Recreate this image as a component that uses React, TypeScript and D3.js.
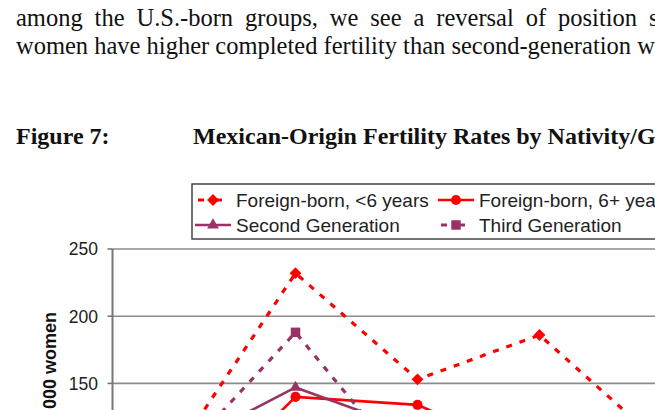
import * as React from 'react';
import { scaleBand, scaleLinear, line, symbol, symbolSquare, symbolTriangle, symbolCircle } from 'd3';

// age groups (x axis falls below the visible crop)
const categories = ['15-19', '20-24', '25-29', '30-34', '35-39', '40-44'];
const foreignRecent = [96, 232, 153, 186, 105, 40];
const foreignLong = [50, 140, 134, 95, 50, 12];
const secondGen = [100, 147, 114, 75, 35, 8];
const thirdGen = [90, 188, 78, 55, 25, 6];
const yTicks = [0, 50, 100, 150, 200, 250];

const RED = '#ff0000';
const PLUM = '#993366';

const series = [
    { name: 'Foreign-born, <6 years', values: foreignRecent, color: RED, dash: '6,8', marker: 'diamond' },
    { name: 'Foreign-born, 6+ years', values: foreignLong, color: RED, dash: null, marker: 'circle' },
    { name: 'Second Generation', values: secondGen, color: PLUM, dash: null, marker: 'triangle' },
    { name: 'Third Generation', values: thirdGen, color: PLUM, dash: '6,8', marker: 'square' },
];

const markerPath = (kind: string) => {
    if (kind === 'diamond') return symbol(symbolSquare, 70)();
    if (kind === 'circle') return symbol(symbolCircle, 80)();
    if (kind === 'triangle') return symbol(symbolTriangle, 60)();
    return symbol(symbolSquare, 90)();
};

const Marker = ({ kind, x, y, color }: { kind: string; x: number; y: number; color: string }) => (
    <path
        d={markerPath(kind) as string}
        fill={color}
        transform={`translate(${x},${y})${kind === 'diamond' ? ' rotate(45)' : ''}`}
    />
);

export default function App() {
    const left = 112.5;
    const top = 249;
    const bottom = 585;
    const band = 122;

    const x = scaleBand<string>()
        .domain(categories)
        .range([left, left + band * categories.length]);
    const y = scaleLinear().domain([0, 250]).range([bottom, top]);
    const cx = (c: string) => (x(c) as number) + x.bandwidth() / 2;

    const path = line<number>()
        .x((_, i) => cx(categories[i]))
        .y(v => y(v));

    const right = left + band * categories.length;

    // legend layout: two columns, two rows
    const legendX = [195, 438];
    const legendY = [200, 225];

    return (
        <svg width={655} height={410} style={{ position: 'absolute', left: 0, top: 0, background: '#fff' }}>
            <g fontFamily="'Liberation Serif', 'Times New Roman', serif" fill="#111">
                <text x={16} y={26} fontSize={24.5} wordSpacing={5.8}>
                    among the U.S.-born groups, we see a reversal of position since
                </text>
                <text x={16} y={54} fontSize={24.5}>
                    women have higher completed fertility than second-generation women.
                </text>
                <text x={16} y={144} fontSize={24} fontWeight="bold">Figure 7:</text>
                <text x={193} y={144} fontSize={24} fontWeight="bold">
                    Mexican-Origin Fertility Rates by Nativity/Generation
                </text>
            </g>

            <g fontFamily="'Liberation Sans', Arial, sans-serif">
                {yTicks.map(t => (
                    <g key={t}>
                        <line x1={left} x2={right} y1={y(t)} y2={y(t)} stroke="#8c8c8c" strokeWidth={1.6} />
                        <line x1={left - 5} x2={left} y1={y(t)} y2={y(t)} stroke="#777" strokeWidth={1.6} />
                        <text x={98} y={y(t)} dy="0.36em" fontSize={17.5} textAnchor="end" fill="#222">
                            {t}
                        </text>
                    </g>
                ))}
                <line x1={left} x2={left} y1={top} y2={bottom} stroke="#777" strokeWidth={2} />

                <text
                    transform={`translate(56,${(top + bottom) / 2 - 4}) rotate(-90)`}
                    fontSize={18}
                    fontWeight="bold"
                    textAnchor="middle"
                    fill="#111"
                >
                    Births per 1,000 women
                </text>

                {series.map(s => (
                    <g key={s.name}>
                        <path
                            d={path(s.values) as string}
                            fill="none"
                            stroke={s.color}
                            strokeWidth={s.dash ? 3.2 : 2.6}
                            strokeDasharray={s.dash ?? undefined}
                        />
                        {s.values.map((v, i) => (
                            <Marker key={i} kind={s.marker} x={cx(categories[i])} y={y(v)} color={s.color} />
                        ))}
                    </g>
                ))}

                <rect x={192} y={184} width={560} height={55} fill="#fff" stroke="#444" strokeWidth={1.5} />
                {series.map((s, i) => {
                    const lx = legendX[i % 2];
                    const ly = legendY[Math.floor(i / 2)];
                    return (
                        <g key={s.name}>
                            <line
                                x1={lx}
                                x2={lx + 36}
                                y1={ly}
                                y2={ly}
                                stroke={s.color}
                                strokeWidth={s.dash ? 3.2 : 2.6}
                                strokeDasharray={s.dash ? '6,12' : undefined}
                                strokeDashoffset={s.dash ? -3 : 0}
                            />
                            <Marker kind={s.marker} x={lx + 18} y={ly} color={s.color} />
                            <text x={lx + 41} y={ly} dy="0.35em" fontSize={19} fill="#222">
                                {s.name}
                            </text>
                        </g>
                    );
                })}
            </g>
        </svg>
    );
}
